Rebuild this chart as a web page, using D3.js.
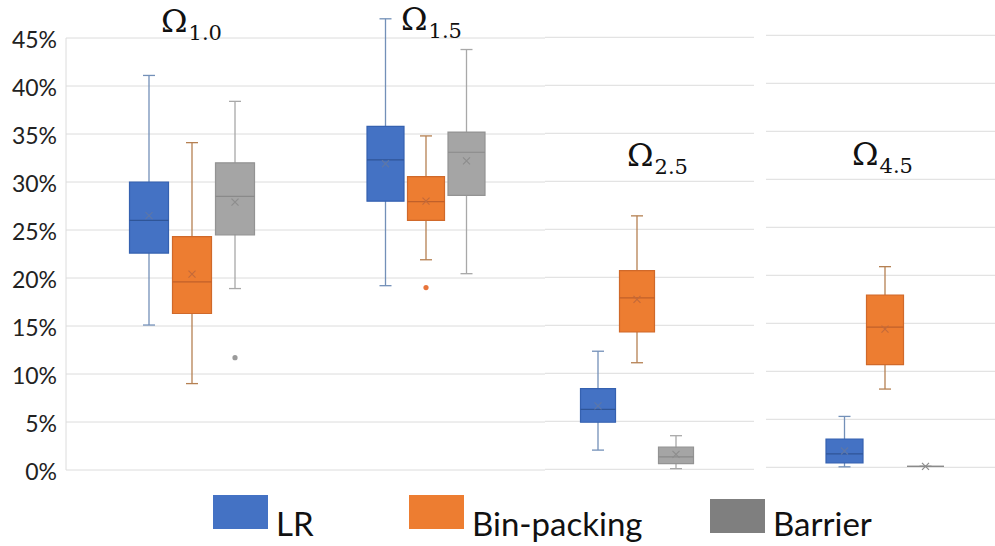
<!DOCTYPE html>
<html>
<head>
<meta charset="utf-8">
<script src="https://cdn.jsdelivr.net/npm/d3@7"></script>
<style>
  body { margin: 0; background: #fff; }
  svg { display: block; }
</style>
</head>
<body>
<div id="chart"></div>
<script>
// groups (panels) and series
var groups = ['1.0', '1.5', '2.5', '4.5'];
var series = ['LR', 'Bin-packing', 'Barrier'];
var yTicks = [0, 5, 10, 15, 20, 25, 30, 35, 40, 45];

// box stats in %, rows = series, columns = groups
var whiskerLow = [
  [15.1, 19.2, 2.0, 0.05],
  [9.0, 21.9, 11.1, 8.15],
  [18.9, 20.45, 0.07, 0.1]
];
var q1 = [
  [22.6, 28.0, 4.9, 0.45],
  [16.3, 26.0, 14.3, 10.7],
  [24.5, 28.6, 0.6, 0.1]
];
var median = [
  [26.0, 32.3, 6.25, 1.4],
  [19.6, 27.95, 17.85, 14.6],
  [28.5, 33.1, 1.3, 0.1]
];
var q3 = [
  [30.0, 35.8, 8.4, 2.95],
  [24.3, 30.55, 20.7, 17.95],
  [32.0, 35.2, 2.3, 0.1]
];
var whiskerHigh = [
  [41.1, 47.0, 12.3, 5.3],
  [34.1, 34.8, 26.4, 20.9],
  [38.4, 43.8, 3.5, 0.1]
];
var mean = [
  [26.5, 31.9, 6.6, 1.7],
  [20.4, 28.0, 17.7, 14.4],
  [27.9, 32.2, 1.56, 0.1]
];
var outliers = [
  [[], [], [], []],
  [[], [19.0], [], []],
  [[11.7], [], [], []]
];

// layout of the (pasted together) panels
var W = 995, H = 546;
var panelX0 = [66, 312, 545, 766];
var panelX1 = [312, 545, 754, 995];
var panelCenter = [192, 426, 637, 885];
var panelStep = [43, 40.5, 39, 40.5];
var panelBoxW = [39, 37, 35, 37];
var panelY0 = [470, 470, 469.3, 467.3];   // pixel of 0%
var titleX = [161, 401, 627, 852];
var titleY = [32, 30, 166, 165];

var fills = ['#4472C4', '#ED7D31', '#A5A5A5'];
var borders = ['#3561b0', '#d0692a', '#939393'];
var whiskers = ['#7390b8', '#b58052', '#a8a8a8'];
var medians = ['#2f5597', '#c0602a', '#8a8a8a'];
var marks = ['#5d77a8', '#c46a3a', '#8d8d8d'];
var legendFills = ['#4472C4', '#ED7D31', '#7F7F7F'];

var svg = d3.select('#chart').append('svg')
  .attr('width', W).attr('height', H);

svg.append('rect').attr('width', W).attr('height', H).attr('fill', '#fff');

groups.forEach(function (g, gi) {
  var y = d3.scaleLinear().domain([0, 45]).range([panelY0[gi], panelY0[gi] - 432]);
  var x = d3.scalePoint().domain(series)
    .range([panelCenter[gi] - panelStep[gi], panelCenter[gi] + panelStep[gi]]);
  var bw = panelBoxW[gi];
  var panel = svg.append('g').attr('class', 'panel');

  // gridlines
  panel.selectAll('line.grid')
    .data(yTicks)
    .enter().append('line')
    .attr('class', 'grid')
    .attr('x1', panelX0[gi]).attr('x2', panelX1[gi])
    .attr('y1', function (d) { return y(d); })
    .attr('y2', function (d) { return y(d); })
    .attr('stroke', '#dcdcdc').attr('stroke-width', 1);

  if (gi === 0) {
    panel.append('line')
      .attr('x1', panelX0[0]).attr('x2', panelX0[0])
      .attr('y1', y(45)).attr('y2', y(0))
      .attr('stroke', '#dcdcdc');

    var axis = d3.axisLeft(y).tickValues(yTicks)
      .tickSize(0).tickPadding(9)
      .tickFormat(function (d) { return d + '%'; });
    var ag = svg.append('g')
      .attr('transform', 'translate(' + panelX0[0] + ',0)')
      .call(axis);
    ag.select('.domain').remove();
    ag.selectAll('text')
      .attr('font-family', 'Lato, sans-serif')
      .attr('font-size', 23)
      .attr('fill', '#222')
      .attr('dy', '0.42em');
  }

  series.forEach(function (s, si) {
    var cx = x(s);
    var gs = panel.append('g');

    // whisker
    gs.append('line')
      .attr('x1', cx).attr('x2', cx)
      .attr('y1', y(whiskerLow[si][gi])).attr('y2', y(whiskerHigh[si][gi]))
      .attr('stroke', whiskers[si]).attr('stroke-width', 1.3);
    [whiskerLow[si][gi], whiskerHigh[si][gi]].forEach(function (v) {
      gs.append('line')
        .attr('x1', cx - 6).attr('x2', cx + 6)
        .attr('y1', y(v)).attr('y2', y(v))
        .attr('stroke', whiskers[si]).attr('stroke-width', 1.3);
    });

    // box (path, so that a flat box still shows)
    var yt = y(q3[si][gi]), yb = y(q1[si][gi]);
    gs.append('path')
      .attr('d', 'M' + (cx - bw / 2) + ',' + yt + 'H' + (cx + bw / 2) +
                 'V' + yb + 'H' + (cx - bw / 2) + 'Z')
      .attr('fill', fills[si])
      .attr('stroke', borders[si]).attr('stroke-width', 1.2);

    // median
    gs.append('line')
      .attr('x1', cx - bw / 2).attr('x2', cx + bw / 2)
      .attr('y1', y(median[si][gi])).attr('y2', y(median[si][gi]))
      .attr('stroke', medians[si]).attr('stroke-width', 1.2);

    // mean marker
    var my = y(mean[si][gi]), m = 3.5;
    gs.append('path')
      .attr('d', 'M' + (cx - m) + ',' + (my - m) + 'L' + (cx + m) + ',' + (my + m) +
                 'M' + (cx - m) + ',' + (my + m) + 'L' + (cx + m) + ',' + (my - m))
      .attr('stroke', marks[si]).attr('stroke-width', 1.2).attr('fill', 'none');

    // outliers
    gs.selectAll('circle')
      .data(outliers[si][gi])
      .enter().append('circle')
      .attr('cx', cx).attr('cy', function (d) { return y(d); })
      .attr('r', 2.6)
      .attr('fill', si === 1 ? '#e8743b' : '#9a9a9a');
  });

  // panel title
  var t = svg.append('text')
    .attr('x', titleX[gi]).attr('y', titleY[gi])
    .attr('font-family', '"DejaVu Serif", serif')
    .attr('fill', '#111');
  t.append('tspan').attr('font-size', 32).text('Ω');
  t.append('tspan').attr('font-size', 21).attr('dx', 1).attr('dy', 8).text(g);
});

// legend
var legendX = [213, 409, 710];
var legendY = [495, 495, 499];
var legend = svg.append('g');
series.forEach(function (s, si) {
  legend.append('rect')
    .attr('x', legendX[si]).attr('y', legendY[si])
    .attr('width', 55).attr('height', 34)
    .attr('fill', legendFills[si]);
  legend.append('text')
    .attr('x', legendX[si] + 63).attr('y', 536)
    .attr('font-family', 'Lato, sans-serif')
    .attr('font-size', 33)
    .attr('fill', '#111')
    .text(s);
});
</script>
</body>
</html>
